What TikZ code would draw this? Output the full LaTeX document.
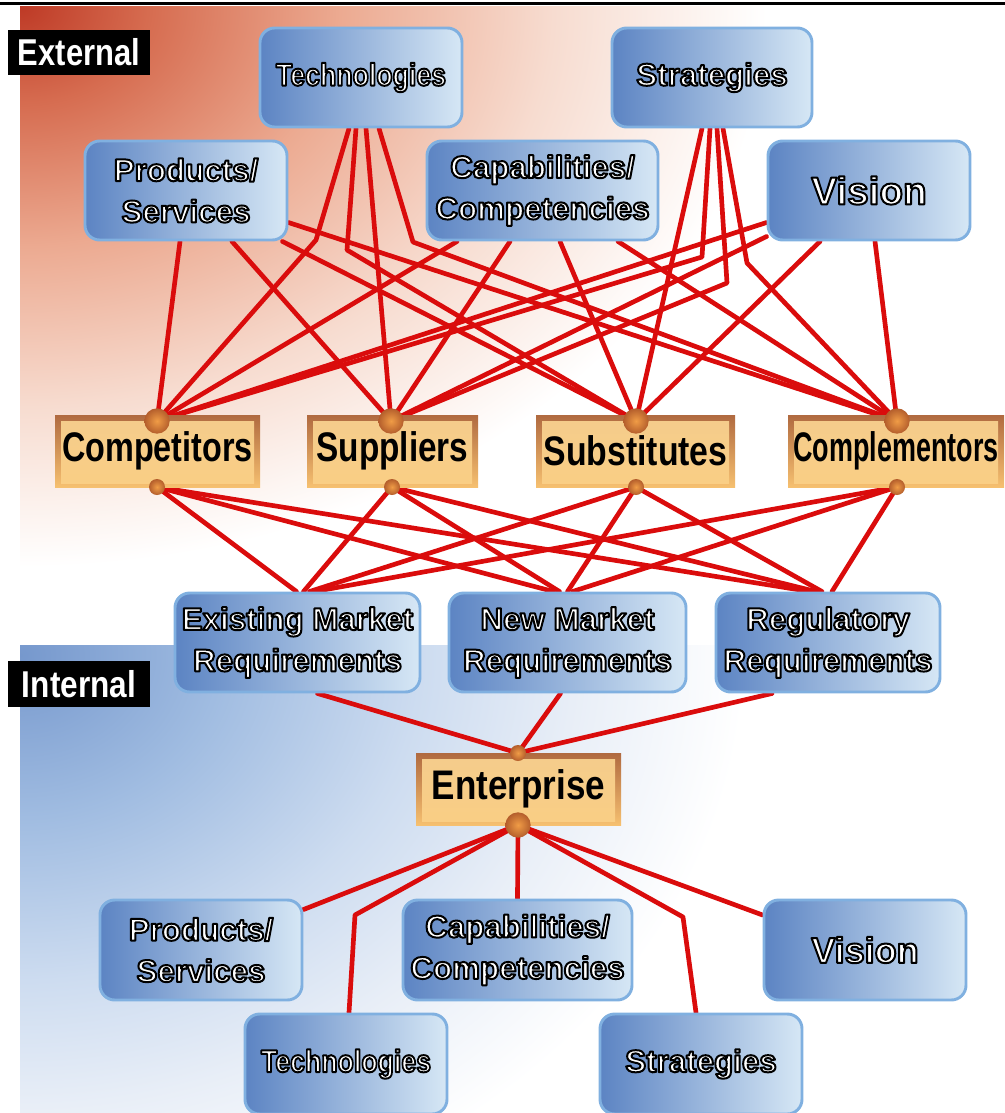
\documentclass[tikz,border=0pt]{standalone}
\usepackage{fontspec}
\setmainfont{Liberation Sans}
\usepackage{graphicx}
\usetikzlibrary{calc}

\definecolor{redline}{RGB}{218,12,12}
\definecolor{bbL}{RGB}{92,132,195}
\definecolor{bbM}{RGB}{152,188,227}
\definecolor{bbR}{RGB}{214,231,245}
\definecolor{bbB}{RGB}{128,176,224}
\definecolor{obrd}{RGB}{176,106,64}
\definecolor{obot}{RGB}{246,192,112}
\definecolor{oinA}{RGB}{244,204,140}
\definecolor{oinB}{RGB}{255,238,196}
\definecolor{oinC}{RGB}{250,206,132}
\definecolor{dotin}{RGB}{240,156,70}
\definecolor{dotout}{RGB}{180,94,44}
\definecolor{rA}{RGB}{190,58,38}
\definecolor{rB}{RGB}{214,108,80}
\definecolor{rC}{RGB}{236,170,145}
\definecolor{rD}{RGB}{247,220,208}
\definecolor{bA}{RGB}{118,152,205}
\definecolor{bB}{RGB}{160,188,225}
\definecolor{bC}{RGB}{205,220,240}
\definecolor{bD}{RGB}{232,238,247}

\pgfdeclareradialshading{bgred}{\pgfpoint{0bp}{0bp}}{color(0bp)=(rA); color(3bp)=(rB); color(7.5bp)=(rC); color(12.5bp)=(rD); color(17.5bp)=(white); color(50bp)=(white)}
\pgfdeclareradialshading{bgblue}{\pgfpoint{0bp}{0bp}}{color(0bp)=(bA); color(4.7bp)=(bB); color(9.4bp)=(bC); color(13bp)=(bD); color(17bp)=(white); color(50bp)=(white)}

\pgfdeclarelayer{bg}
\pgfdeclarelayer{lines}
\pgfsetlayers{bg,lines,main}

\newcommand\btxt{\bfseries\fontsize{23.5}{31}\selectfont}
% white text with a black outline (fill + stroke render mode)
\newcommand\otl[1]{\special{pdf:literal direct 1 j 0 G 1.5 w 2 Tr}#1\special{pdf:literal direct 0 Tr}}

\begin{document}
\begin{tikzpicture}[x=0.75pt,y=-0.75pt,
  bluebox/.style={rounded corners=11pt, draw=bbB, line width=2.2pt, left color=bbL, middle color=bbM, right color=bbR, inner sep=0pt},
  obox/.style={rectangle, top color=obrd, bottom color=obot, inner sep=0pt,
    path picture={\shade[top color=oinA, middle color=oinB, bottom color=oinC]
      ([xshift=4.5pt,yshift=-5pt]path picture bounding box.north west) rectangle
      ([xshift=-4.5pt,yshift=3pt]path picture bounding box.south east);}},
  bigdot/.style={circle, inner sep=0pt, minimum size=19pt, inner color=dotin, outer color=dotout},
  smalldot/.style={circle, inner sep=0pt, minimum size=12pt, inner color=dotin, outer color=dotout},
  link/.style={draw=redline, line width=3.5pt, line join=round, line cap=round},
  tagbox/.style={fill=black, text=white, inner sep=0pt, font=\bfseries\fontsize{28}{28}\selectfont},
  wtext/.style={align=center, inner sep=0pt, text=white, font=\btxt},
  otx/.style={text=black, inner sep=0pt, font=\bfseries\fontsize{31}{31}\selectfont}]

\useasboundingbox (0,0) rectangle (1005,1113);

% backgrounds
\begin{pgfonlayer}{bg}
  \fill[white] (0,0) rectangle (1005,1113);
  \begin{scope}
    \clip (20,7) rectangle (1005,645);
    \shade[shading=bgred] (20,7) ellipse [x radius=800pt, y radius=600pt];
  \end{scope}
  \begin{scope}
    \clip (20,645) rectangle (1005,1113);
    \shade[shading=bgblue] (20,655) ellipse [x radius=800pt, y radius=650pt];
  \end{scope}
  \draw[line width=2.25pt] (0,3.5) -- (1005,3.5);
\end{pgfonlayer}

% section tags
\node[tagbox, minimum width=106.5pt, minimum height=33.75pt] (extT) at (79,52.5) {\resizebox{91.5pt}{\height}{External}};
\node[tagbox, minimum width=106.5pt, minimum height=34.5pt] (intT) at (79,684) {\resizebox{85.5pt}{\height}{Internal}};

% external blue boxes
\node[bluebox, minimum width=151.5pt, minimum height=74.25pt] (techE) at (361,77.5) {};
\node[bluebox, minimum width=150pt, minimum height=74.25pt] (stratE) at (712,77.5) {};
\node[bluebox, minimum width=151.5pt, minimum height=74.25pt] (prodE) at (186,190.5) {};
\node[bluebox, minimum width=173.25pt, minimum height=74.25pt] (capE) at (542.5,190.5) {};
\node[bluebox, minimum width=151.5pt, minimum height=74.25pt] (visE) at (869,190.5) {};

% orange boxes
\node[obox, minimum width=153.75pt, minimum height=54pt] (comp) at (157.5,451) {};
\node[obox, minimum width=128.25pt, minimum height=54pt] (supp) at (392.5,451) {};
\node[obox, minimum width=149.25pt, minimum height=54pt] (subs) at (635.5,451) {};
\node[obox, minimum width=162pt, minimum height=54pt] (cmpl) at (896,451) {};
\node[obox, minimum width=153.75pt, minimum height=54pt] (ent) at (518.5,789) {};

% requirement boxes
\node[bluebox, minimum width=183.75pt, minimum height=74.25pt] (exist) at (297.5,642.5) {};
\node[bluebox, minimum width=177.75pt, minimum height=74.25pt] (newm) at (567.5,642.5) {};
\node[bluebox, minimum width=168pt, minimum height=74.25pt] (regu) at (828,642.5) {};

% internal blue boxes
\node[bluebox, minimum width=151.5pt, minimum height=75pt] (prodI) at (201,950) {};
\node[bluebox, minimum width=171.75pt, minimum height=75pt] (capI) at (517.5,950) {};
\node[bluebox, minimum width=151.5pt, minimum height=75pt] (visI) at (865,950) {};
\node[bluebox, minimum width=151.5pt, minimum height=75pt] (techI) at (346,1064) {};
\node[bluebox, minimum width=151.5pt, minimum height=75pt] (stratI) at (701,1064) {};

% dots
\node[bigdot] (dCt) at (157,421) {};
\node[smalldot] (dCb) at (157,487) {};
\node[bigdot] (dSut) at (391,421) {};
\node[smalldot] (dSub) at (392,487) {};
\node[bigdot] (dSbt) at (636,421) {};
\node[smalldot] (dSbb) at (636,487) {};
\node[bigdot] (dCmt) at (897,421) {};
\node[smalldot] (dCmb) at (897,487) {};
\node[smalldot] (dEt) at (518,753) {};
\node[bigdot] (dEb) at (518,825) {};

% connectors
\begin{pgfonlayer}{lines}
  % Technologies (external)
  \draw[link] ($(techE.south)+(-12,0)$) -- (316,240) -- (dCt.center);
  \draw[link] ($(techE.south)+(-5,0)$) -- (347,250) -- (dSbt.center);
  \draw[link] ($(techE.south)+(5,0)$) -- (dSut.center);
  \draw[link] ($(techE.south)+(18,0)$) -- (413,242) -- (dCmt.center);
  % Strategies (external)
  \draw[link] ($(stratE.south)+(-10,0)$) -- (dSbt.center);
  \draw[link] ($(stratE.south)+(-2,0)$) -- (702,257) -- (dCt.center);
  \draw[link] ($(stratE.south)+(5,0)$) -- (727,283) -- (dSut.center);
  \draw[link] ($(stratE.south)+(11,0)$) -- (747,263) -- (dCmt.center);
  % Products/Services (external)
  \draw[link] ($(prodE.south)+(-6,0)$) -- (dCt.center);
  \draw[link] ($(prodE.south)+(46,0)$) -- (dSut.center);
  \draw[link] ($(prodE.east)+(0,32)$) -- (dCmt.center);
  \draw[link] ($(prodE.south east)+(-6,0)$) -- (dSbt.center);
  % Capabilities (external)
  \draw[link] ($(capE.south)+(-85.5,0)$) -- (dCt.center);
  \draw[link] ($(capE.south)+(-32.5,0)$) -- (dSut.center);
  \draw[link] ($(capE.south)+(17.5,0)$) -- (dSbt.center);
  \draw[link] ($(capE.south)+(75.5,0)$) -- (dCmt.center);
  % Vision (external)
  \draw[link] ($(visE.west)+(0,32)$) -- (dCt.center);
  \draw[link] ($(visE.west)+(0,46)$) -- (dSut.center);
  \draw[link] ($(visE.south)+(-49,0)$) -- (dSbt.center);
  \draw[link] ($(visE.south)+(6,0)$) -- (dCmt.center);
  % forces to requirements
  \draw[link] (dCb.center) -- ($(exist.north)+(-1,0)$);
  \draw[link] (dCb.center) -- ($(newm.north)+(-14,0)$);
  \draw[link] (dCb.center) -- ($(regu.north)+(-18,0)$);
  \draw[link] (dSub.center) -- ($(exist.north)+(6,0)$);
  \draw[link] (dSub.center) -- ($(newm.north)+(-8,0)$);
  \draw[link] (dSub.center) -- ($(regu.north)+(-12,0)$);
  \draw[link] (dSbb.center) -- ($(exist.north)+(12,0)$);
  \draw[link] (dSbb.center) -- ($(newm.north)+(0,0)$);
  \draw[link] (dSbb.center) -- ($(regu.north)+(-6,0)$);
  \draw[link] (dCmb.center) -- ($(exist.north)+(17,0)$);
  \draw[link] (dCmb.center) -- ($(newm.north)+(5,0)$);
  \draw[link] (dCmb.center) -- ($(regu.north)+(4,0)$);
  % requirements to enterprise
  \draw[link] ($(exist.south)+(20,0)$) -- (dEt.center);
  \draw[link] ($(newm.south)+(-7,0)$) -- (dEt.center);
  \draw[link] ($(regu.south)+(-56,0)$) -- (dEt.center);
  % enterprise to internal
  \draw[link] (dEb.center) -- ($(prodI.north east)+(0,11)$);
  \draw[link] (dEb.center) -- (355,915) -- ($(techI.north)+(3,0)$);
  \draw[link] (dEb.center) -- (capI.north);
  \draw[link] (dEb.center) -- (683,917) -- ($(stratI.north)+(-5,0)$);
  \draw[link] (dEb.center) -- ($(visI.west)+(0,-35)$);
\end{pgfonlayer}

% outlined white labels
\node[wtext] (techEt) at (techE) {\otl{\resizebox{127.5pt}{\height}{Technologies}}};
\node[wtext] (stratEt) at (stratE) {\otl{Strategies}};
\node[wtext] (prodEt) at (prodE) {\otl{Products/}\\\otl{Services}};
\node[wtext] (capEt) at (capE) {\otl{Capabilities/}\\\otl{Competencies}};
\node[wtext, font=\bfseries\fontsize{29}{29}\selectfont] (visEt) at (visE) {\otl{Vision}};
\node[wtext] (existt) at (exist) {\otl{Existing Market}\\\otl{Requirements}};
\node[wtext] (newmt) at (newm) {\otl{New Market}\\\otl{Requirements}};
\node[wtext] (regut) at (regu) {\otl{Regulatory}\\\otl{Requirements}};
\node[wtext] (prodIt) at (prodI) {\otl{Products/}\\\otl{Services}};
\node[wtext] (capIt) at (capI) {\otl{Capabilities/}\\\otl{Competencies}};
\node[wtext, font=\bfseries\fontsize{27}{27}\selectfont] (visIt) at (visI) {\otl{Vision}};
\node[wtext] (techIt) at (techI) {\otl{\resizebox{127.5pt}{\height}{Technologies}}};
\node[wtext] (stratIt) at (stratI) {\otl{Strategies}};

% black labels in orange boxes
\node[otx] (compt) at (comp) {\resizebox{143pt}{\height}{Competitors}};
\node[otx] (suppt) at (supp) {\resizebox{114pt}{\height}{Suppliers}};
\node[otx] (subst) at (subs) {\resizebox{138pt}{\height}{Substitutes}};
\node[otx] (cmplt) at (cmpl) {\resizebox{154pt}{\height}{Complementors}};
\node[otx] (entt) at (ent) {\resizebox{130pt}{\height}{Enterprise}};

\end{tikzpicture}
\end{document}
